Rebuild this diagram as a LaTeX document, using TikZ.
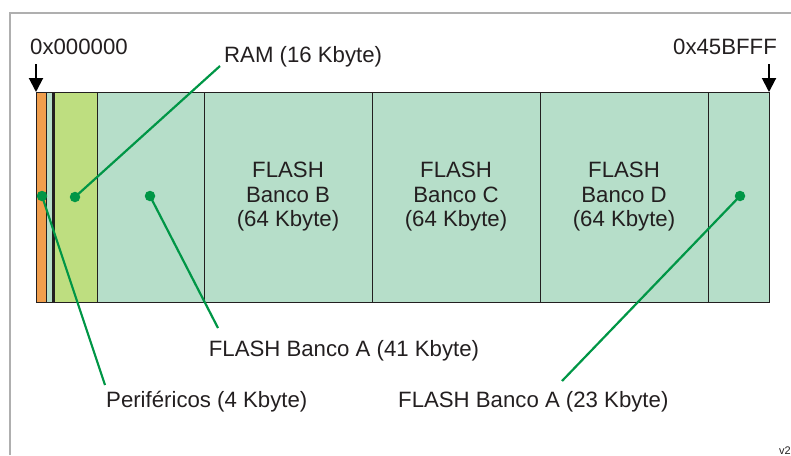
\documentclass[tikz,border=0pt]{standalone}
\usepackage{fontspec}
\setmainfont{Liberation Sans}
\usetikzlibrary{arrows.meta}
\definecolor{perorange}{RGB}{240,158,76}
\definecolor{ramgreen}{RGB}{190,222,128}
\definecolor{flashteal}{RGB}{182,222,201}
\definecolor{leadgreen}{RGB}{0,150,70}
\definecolor{framegray}{RGB}{175,175,175}
\definecolor{inkdark}{RGB}{35,31,32}
\tikzset{
  lbl/.style={font=\fontsize{22.2}{24.5}\selectfont, text=inkdark, inner sep=0pt},
  blocklbl/.style={lbl, align=center},
  region/.style={draw=inkdark, line width=1pt},
  lead/.style={draw=leadgreen, line width=2.2pt},
  dot/.style={circle, fill=leadgreen, minimum size=10.5pt, inner sep=0pt},
  addrarrow/.style={draw=black, line width=2pt, -{Triangle[length=14pt,width=14pt]}}
}
\begin{document}
\begin{tikzpicture}[x=1pt,y=-1pt]
\useasboundingbox (0,0) rectangle (791,455);
% frame around the figure
\draw[framegray, line width=1.2pt] (10,455) -- (10,13) -- (791,13);

% memory regions
\fill[perorange] (36,92) rectangle (46,302);
\fill[flashteal] (46,92) rectangle (52,302);
\fill[ramgreen] (55,92) rectangle (97,302);
\fill[flashteal] (97,92) rectangle (769,302);
\draw[region] (46,92) -- (46,302);
\fill[inkdark] (52,92) rectangle (55,302);
\draw[region] (97,92) -- (97,302);
\draw[region] (204,92) -- (204,302);
\draw[region] (372,92) -- (372,302);
\draw[region] (540,92) -- (540,302);
\draw[region] (708,92) -- (708,302);
\draw[region] (36,92) rectangle (769,302);

% bank labels
\node[blocklbl] (bb) at (288,197) {FLASH\\Banco B\\(64 Kbyte)};
\node[blocklbl] (bc) at (456,197) {FLASH\\Banco C\\(64 Kbyte)};
\node[blocklbl] (bd) at (624,197) {FLASH\\Banco D\\(64 Kbyte)};

% address markers
\node[lbl, anchor=base west] (a0) at (30,54) {0x000000};
\node[lbl, anchor=base east] (a1) at (777,54) {0x45BFFF};
\coordinate (s0) at (36,64);
\coordinate (e0) at (36,92);
\coordinate (s1) at (769,64);
\coordinate (e1) at (769,92);
\draw[addrarrow] (s0) -- (e0);
\draw[addrarrow] (s1) -- (e1);

% callout labels
\node[lbl, anchor=base west] (ram) at (224,62) {RAM (16 Kbyte)};
\node[lbl, anchor=base] (fa41) at (344,356) {FLASH Banco A (41 Kbyte)};
\node[lbl, anchor=base west] (per) at (106,407) {Periféricos (4 Kbyte)};
\node[lbl, anchor=base west] (fa23) at (398,407) {FLASH Banco A (23 Kbyte)};
\node[font=\fontsize{11}{13}\selectfont, text=inkdark, inner sep=0pt, anchor=base west] (ver) at (779,454) {v2};

% callout dots and leaders
\node[dot] (dper) at (42,196) {};
\node[dot] (dram) at (75,197) {};
\node[dot] (dfa41) at (150,196) {};
\node[dot] (dfa23) at (740,196) {};
\coordinate (tper) at (105,385);
\coordinate (tram) at (220,66);
\coordinate (tfa41) at (218,328);
\coordinate (tfa23) at (562,381);
\draw[lead] (dper.center) -- (tper);
\draw[lead] (dram.center) -- (tram);
\draw[lead] (dfa41.center) -- (tfa41);
\draw[lead] (dfa23.center) -- (tfa23);
\end{tikzpicture}
\end{document}
